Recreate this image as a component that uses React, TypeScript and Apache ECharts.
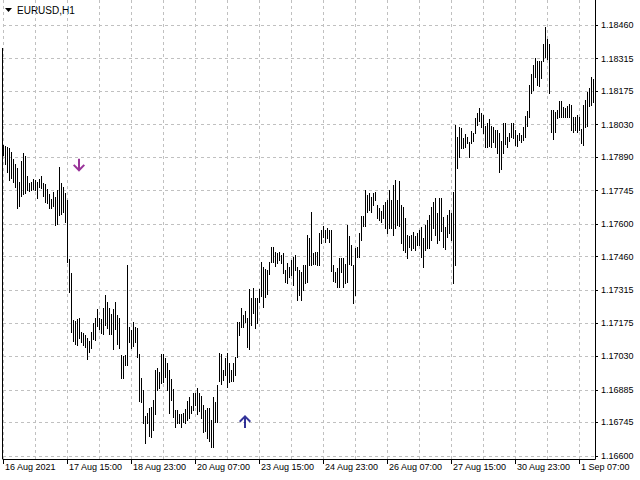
import React, { useEffect, useRef } from 'react';
import * as echarts from 'echarts';

const highs = [
  1.17942, 1.17938, 1.17934, 1.17929, 1.17912, 1.17882, 1.17860, 1.17843, 1.17783, 1.17873,
  1.17908, 1.17895, 1.17808, 1.17778, 1.17783, 1.17796, 1.17791, 1.17783, 1.17796, 1.17808,
  1.17778, 1.17774, 1.17752, 1.17731, 1.17709, 1.17739, 1.17718, 1.17748, 1.17847, 1.17778,
  1.17761, 1.17735, 1.17705, 1.17450, 1.17390, 1.17187, 1.17183, 1.17191, 1.17196, 1.17135,
  1.17131, 1.17122, 1.17109, 1.17096, 1.17135, 1.17174, 1.17196, 1.17234, 1.17196, 1.17191,
  1.17239, 1.17295, 1.17265, 1.17239, 1.17213, 1.17234, 1.17265, 1.17209, 1.17196, 1.17036,
  1.17032, 1.17036, 1.17424, 1.17157, 1.17144, 1.17178, 1.17157, 1.17152, 1.17040, 1.16937,
  1.16885, 1.16773, 1.16786, 1.16807, 1.16812, 1.16842, 1.16971, 1.16980, 1.16963, 1.17040,
  1.17040, 1.17023, 1.17001, 1.16971, 1.16932, 1.16889, 1.16799, 1.16799, 1.16781, 1.16781,
  1.16786, 1.16803, 1.16837, 1.16855, 1.16816, 1.16872, 1.16872, 1.16894, 1.16872, 1.16859,
  1.16820, 1.16799, 1.16807, 1.16807, 1.16755, 1.16855, 1.16833, 1.16906, 1.17045, 1.17040,
  1.16971, 1.17023, 1.17045, 1.17001, 1.16971, 1.17001, 1.17027, 1.17178, 1.17178, 1.17239,
  1.17209, 1.17226, 1.17196, 1.17321, 1.17282, 1.17325, 1.17282, 1.17282, 1.17321, 1.17437,
  1.17416, 1.17407, 1.17403, 1.17437, 1.17502, 1.17502, 1.17480, 1.17476, 1.17480, 1.17467,
  1.17476, 1.17403, 1.17433, 1.17416, 1.17446, 1.17459, 1.17467, 1.17416, 1.17403, 1.17394,
  1.17424, 1.17424, 1.17554, 1.17541, 1.17653, 1.17476, 1.17480, 1.17480, 1.17562, 1.17575,
  1.17593, 1.17575, 1.17584, 1.17575, 1.17575, 1.17424, 1.17394, 1.17411, 1.17454, 1.17454,
  1.17454, 1.17429, 1.17597, 1.17549, 1.17511, 1.17424, 1.17498, 1.17502, 1.17562, 1.17636,
  1.17636, 1.17748, 1.17726, 1.17735, 1.17718, 1.17735, 1.17739, 1.17683, 1.17670, 1.17657,
  1.17683, 1.17696, 1.17705, 1.17748, 1.17705, 1.17769, 1.17791, 1.17705, 1.17787, 1.17683,
  1.17675, 1.17627, 1.17554, 1.17549, 1.17554, 1.17567, 1.17549, 1.17562, 1.17575, 1.17588,
  1.17541, 1.17597, 1.17618, 1.17640, 1.17675, 1.17696, 1.17714, 1.17649, 1.17714, 1.17714,
  1.17632, 1.17588, 1.17640, 1.17662, 1.17649, 1.17739, 1.18028, 1.17977, 1.18020, 1.18015,
  1.17973, 1.17990, 1.17977, 1.17955, 1.18003, 1.17994, 1.18059, 1.18080, 1.18102, 1.18080,
  1.18072, 1.18024, 1.18037, 1.18054, 1.18024, 1.18020, 1.18007, 1.18007, 1.17994, 1.17959,
  1.18037, 1.18037, 1.17977, 1.17994, 1.18037, 1.18037, 1.18007, 1.17985, 1.17994, 1.17985,
  1.18020, 1.18067, 1.18089, 1.18201, 1.18249, 1.18287, 1.18318, 1.18305, 1.18305, 1.18305,
  1.18378, 1.18451, 1.18400, 1.18378, 1.18093, 1.18093, 1.18085, 1.18093, 1.18132, 1.18132,
  1.18106, 1.18102, 1.18110, 1.18119, 1.18115, 1.18063, 1.18063, 1.18072, 1.18063, 1.18011,
  1.18115, 1.18136, 1.18171, 1.18188, 1.18236, 1.18227
];

const lows = [
  1.17899, 1.17860, 1.17826, 1.17791, 1.17800, 1.17783, 1.17761, 1.17670, 1.17679, 1.17722,
  1.17731, 1.17735, 1.17748, 1.17744, 1.17748, 1.17752, 1.17748, 1.17714, 1.17761, 1.17757,
  1.17722, 1.17696, 1.17692, 1.17670, 1.17670, 1.17679, 1.17597, 1.17601, 1.17640, 1.17644,
  1.17653, 1.17610, 1.17437, 1.17308, 1.17135, 1.17096, 1.17083, 1.17079, 1.17109, 1.17092,
  1.17079, 1.17070, 1.17019, 1.17049, 1.17066, 1.17105, 1.17101, 1.17161, 1.17148, 1.17131,
  1.17127, 1.17165, 1.17152, 1.17127, 1.17127, 1.17062, 1.17148, 1.17083, 1.17066, 1.16937,
  1.16937, 1.16993, 1.16993, 1.17092, 1.17066, 1.17075, 1.17092, 1.17027, 1.16837, 1.16833,
  1.16743, 1.16656, 1.16743, 1.16686, 1.16682, 1.16712, 1.16781, 1.16885, 1.16894, 1.16915,
  1.16919, 1.16941, 1.16885, 1.16786, 1.16842, 1.16768, 1.16725, 1.16743, 1.16743, 1.16725,
  1.16747, 1.16743, 1.16755, 1.16764, 1.16786, 1.16799, 1.16820, 1.16781, 1.16794, 1.16764,
  1.16704, 1.16708, 1.16678, 1.16665, 1.16639, 1.16639, 1.16747, 1.16747, 1.16924, 1.16911,
  1.16928, 1.16950, 1.16898, 1.16919, 1.16924, 1.16924, 1.16950, 1.17027, 1.17122, 1.17157,
  1.17157, 1.17178, 1.17070, 1.17062, 1.17165, 1.17217, 1.17152, 1.17174, 1.17265, 1.17291,
  1.17243, 1.17286, 1.17299, 1.17385, 1.17437, 1.17437, 1.17420, 1.17433, 1.17446, 1.17433,
  1.17390, 1.17351, 1.17347, 1.17372, 1.17381, 1.17338, 1.17403, 1.17273, 1.17295, 1.17273,
  1.17316, 1.17347, 1.17351, 1.17424, 1.17424, 1.17428, 1.17428, 1.17424, 1.17424, 1.17519,
  1.17545, 1.17524, 1.17541, 1.17524, 1.17398, 1.17355, 1.17351, 1.17329, 1.17329, 1.17394,
  1.17329, 1.17347, 1.17351, 1.17429, 1.17424, 1.17260, 1.17295, 1.17459, 1.17459, 1.17532,
  1.17593, 1.17593, 1.17653, 1.17662, 1.17653, 1.17683, 1.17705, 1.17627, 1.17619, 1.17610,
  1.17627, 1.17584, 1.17562, 1.17584, 1.17584, 1.17554, 1.17584, 1.17597, 1.17593, 1.17519,
  1.17489, 1.17480, 1.17454, 1.17502, 1.17489, 1.17498, 1.17489, 1.17511, 1.17511, 1.17459,
  1.17416, 1.17489, 1.17498, 1.17498, 1.17532, 1.17584, 1.17554, 1.17519, 1.17532, 1.17571,
  1.17502, 1.17493, 1.17545, 1.17562, 1.17532, 1.17347, 1.17424, 1.17843, 1.17890, 1.17929,
  1.17929, 1.17934, 1.17951, 1.17890, 1.17951, 1.17959, 1.17994, 1.18028, 1.18046, 1.18020,
  1.17994, 1.17934, 1.17934, 1.17938, 1.17934, 1.17955, 1.17934, 1.17908, 1.17826, 1.17839,
  1.17908, 1.17946, 1.17934, 1.17959, 1.17977, 1.17972, 1.17942, 1.17938, 1.17964, 1.17955,
  1.17964, 1.17977, 1.18024, 1.18063, 1.18167, 1.18180, 1.18236, 1.18201, 1.18197, 1.18231,
  1.18305, 1.18322, 1.18313, 1.18167, 1.17999, 1.17968, 1.17999, 1.18059, 1.18063, 1.18063,
  1.18063, 1.18063, 1.18063, 1.18063, 1.18007, 1.17999, 1.18007, 1.17999, 1.18007, 1.17951,
  1.17942, 1.18020, 1.18024, 1.18110, 1.18115, 1.18128
];

const xTickLabels = [
  '16 Aug 2021', '17 Aug 15:00', '18 Aug 23:00', '20 Aug 07:00', '23 Aug 15:00',
  '24 Aug 23:00', '26 Aug 07:00', '27 Aug 15:00', '30 Aug 23:00', '1 Sep 07:00'
];

const yTickLabels = [
  '1.16600', '1.16745', '1.16885', '1.17030', '1.17175', '1.17315', '1.17460',
  '1.17600', '1.17745', '1.17890', '1.18030', '1.18175', '1.18315', '1.18460'
];

const sellArrows = [[38, 1.17855]];
const buyArrows = [[121, 1.16749]];

const chartTitle = 'EURUSD,H1';

const FONT = 'Liberation Sans, Arial, sans-serif';

export default function App() {
  const ref = useRef<HTMLDivElement>(null);

  useEffect(() => {
    if (!ref.current) return;
    const chart = echarts.init(ref.current, null, { renderer: 'svg' });

    const categories: string[] = highs.map((_, i) =>
      i % 32 === 0 ? xTickLabels[i / 32] : String(i)
    );
    categories.push('');

    const barData = highs.map((h, i) => [i, h, lows[i]]);

    chart.setOption({
      animation: false,
      backgroundColor: '#ffffff',
      grid: { left: 3, right: 45, top: 0, bottom: 21, containLabel: false },
      xAxis: {
        type: 'category',
        data: categories,
        boundaryGap: false,
        axisLine: { show: true, lineStyle: { color: '#000', width: 1 } },
        axisTick: { show: true, interval: 31, length: 5, lineStyle: { color: '#000' } },
        axisLabel: {
          interval: 31,
          align: 'left',
          margin: 3,
          padding: [0, 0, 0, 2],
          color: '#000',
          fontSize: 9,
          fontFamily: FONT,
          hideOverlap: false,
        },
        splitLine: {
          show: true,
          interval: 15,
          lineStyle: { color: '#c0c0c0', type: [3, 3], width: 1 },
        },
      },
      yAxis: {
        type: 'value',
        position: 'right',
        min: 1.16587,
        max: 1.18568,
        scale: true,
        axisLine: { show: true, lineStyle: { color: '#000', width: 1 } },
        axisTick: {
          show: true,
          length: 3,
          customValues: yTickLabels.map(Number),
          lineStyle: { color: '#000' },
        },
        axisLabel: {
          customValues: yTickLabels.map(Number),
          formatter: (v: number) => v.toFixed(5),
          margin: 6,
          color: '#000',
          fontSize: 9,
          fontFamily: FONT,
        },
        splitLine: {
          show: true,
          lineStyle: { color: '#c0c0c0', type: [3, 3], width: 1 },
        },
      },
      graphic: [
        {
          type: 'line',
          shape: { x1: 2.5, y1: 48, x2: 2.5, y2: 459 },
          style: { stroke: '#000', lineWidth: 1 },
          silent: true,
        },
        {
          type: 'polygon',
          shape: { points: [[5, 8], [12, 8], [8.5, 12]] },
          style: { fill: '#000' },
        },
        {
          type: 'text',
          x: 17,
          y: 10,
          style: {
            text: chartTitle,
            fill: '#000',
            font: '10px ' + FONT,
            verticalAlign: 'middle',
          },
        },
      ],
      series: [
        {
          type: 'custom',
          data: barData,
          encode: { x: 0, y: [1, 2] },
          silent: true,
          renderItem: (params: any, api: any) => {
            const top = api.coord([api.value(0), api.value(1)]);
            const bot = api.coord([api.value(0), api.value(2)]);
            const x = Math.round(top[0]) + 0.5;
            return {
              type: 'line',
              shape: { x1: x, y1: Math.round(top[1]), x2: x, y2: Math.round(bot[1]) + 1 },
              style: { stroke: '#000', lineWidth: 1 },
            };
          },
        },
        {
          type: 'scatter',
          data: sellArrows,
          symbol: 'path://M5,0 L7,0 L7,9 L10.6,5.4 L12,6.8 L6,12.8 L0,6.8 L1.4,5.4 L5,9 Z',
          symbolSize: [12, 13],
          itemStyle: { color: '#800080' },
          silent: true,
        },
        {
          type: 'scatter',
          data: buyArrows,
          symbol: 'path://M5,12.8 L7,12.8 L7,3.8 L10.6,7.4 L12,6 L6,0 L0,6 L1.4,7.4 L5,3.8 Z',
          symbolSize: [12, 13],
          itemStyle: { color: '#000080' },
          silent: true,
        },
      ],
    });

    return () => {
      chart.dispose();
    };
  }, []);

  return (
    <div
      ref={ref}
      style={{ position: 'fixed', left: 0, top: 0, width: 640, height: 480, background: '#fff' }}
    />
  );
}
